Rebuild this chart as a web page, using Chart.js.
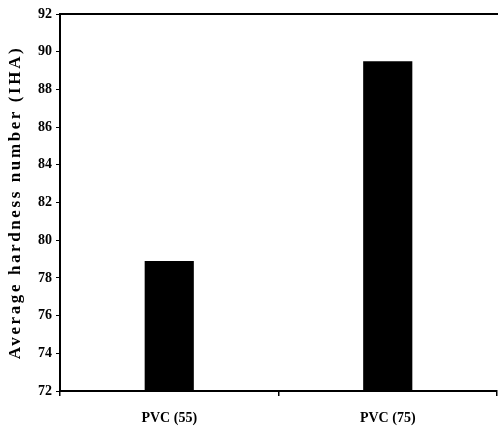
<!DOCTYPE html>
<html>
<head>
<meta charset="utf-8">
<script src="https://cdn.jsdelivr.net/npm/chart.js@4.4.1/dist/chart.umd.min.js"></script>
<style>
  html, body { margin: 0; padding: 0; background: #fff; }
  #wrap { width: 499px; height: 437px; }
</style>
</head>
<body>
<div id="wrap"><canvas id="chart"></canvas></div>
<script>
const categories = ["PVC (55)", "PVC (75)"];
const hardness = [78.9, 89.5];
const yMin = 72;
const yMax = 92;
const yStep = 2;

const serif = "'Liberation Serif', 'DejaVu Serif', serif";

// spaced lettering for the y title only, like the scanned figure
const spacedTitle = {
  id: "spacedTitle",
  afterLayout(chart) {
    const s = chart.scales.y;
    if (!s || s._spaced) return;
    const orig = s.drawTitle;
    s.drawTitle = function (...args) {
      const ctx = this.ctx;
      ctx.save();
      ctx.letterSpacing = "2.6px";
      orig.apply(this, args);
      ctx.restore();
    };
    s._spaced = true;
  }
};

new Chart(document.getElementById("chart"), {
  type: "bar",
  data: {
    labels: categories,
    datasets: [{
      data: hardness,
      backgroundColor: "#000",
      borderWidth: 0,
      categoryPercentage: 1,
      barPercentage: 0.225
    }]
  },
  options: {
    responsive: true,
    maintainAspectRatio: false,
    animation: false,
    layout: { padding: { top: 14, right: 2, left: 0, bottom: 0 } },
    plugins: {
      legend: { display: false },
      tooltip: { enabled: false }
    },
    scales: {
      x: {
        grid: { display: true, drawOnChartArea: false, offset: true, tickLength: 5, color: "#000", lineWidth: 1.5 },
        border: { display: true, color: "#000", width: 2 },
        ticks: { color: "#000", font: { family: serif, size: 14, weight: "bold" }, padding: 14 },
        afterFit(scale) { scale.height = 46; }
      },
      x2: {
        position: "top",
        labels: categories,
        grid: { display: false, drawTicks: false },
        border: { display: true, color: "#000", width: 2 },
        ticks: { display: false },
        afterFit(scale) { scale.height = 0; }
      },
      y: {
        min: yMin,
        max: yMax,
        ticks: { stepSize: yStep, color: "#000", font: { family: serif, size: 14, weight: "bold" }, padding: 4 },
        grid: { display: true, drawOnChartArea: false, tickLength: 4, color: "#000", lineWidth: 1 },
        border: { display: true, color: "#000", width: 2 },
        title: {
          display: true,
          text: "Average hardness number (IHA)",
          color: "#000",
          font: { family: serif, size: 17, weight: "bold" },
          padding: { top: 5, bottom: 2 }
        },
        afterFit(scale) { scale.width = 60; }
      }
    }
  },
  plugins: [spacedTitle]
});
</script>
</body>
</html>
